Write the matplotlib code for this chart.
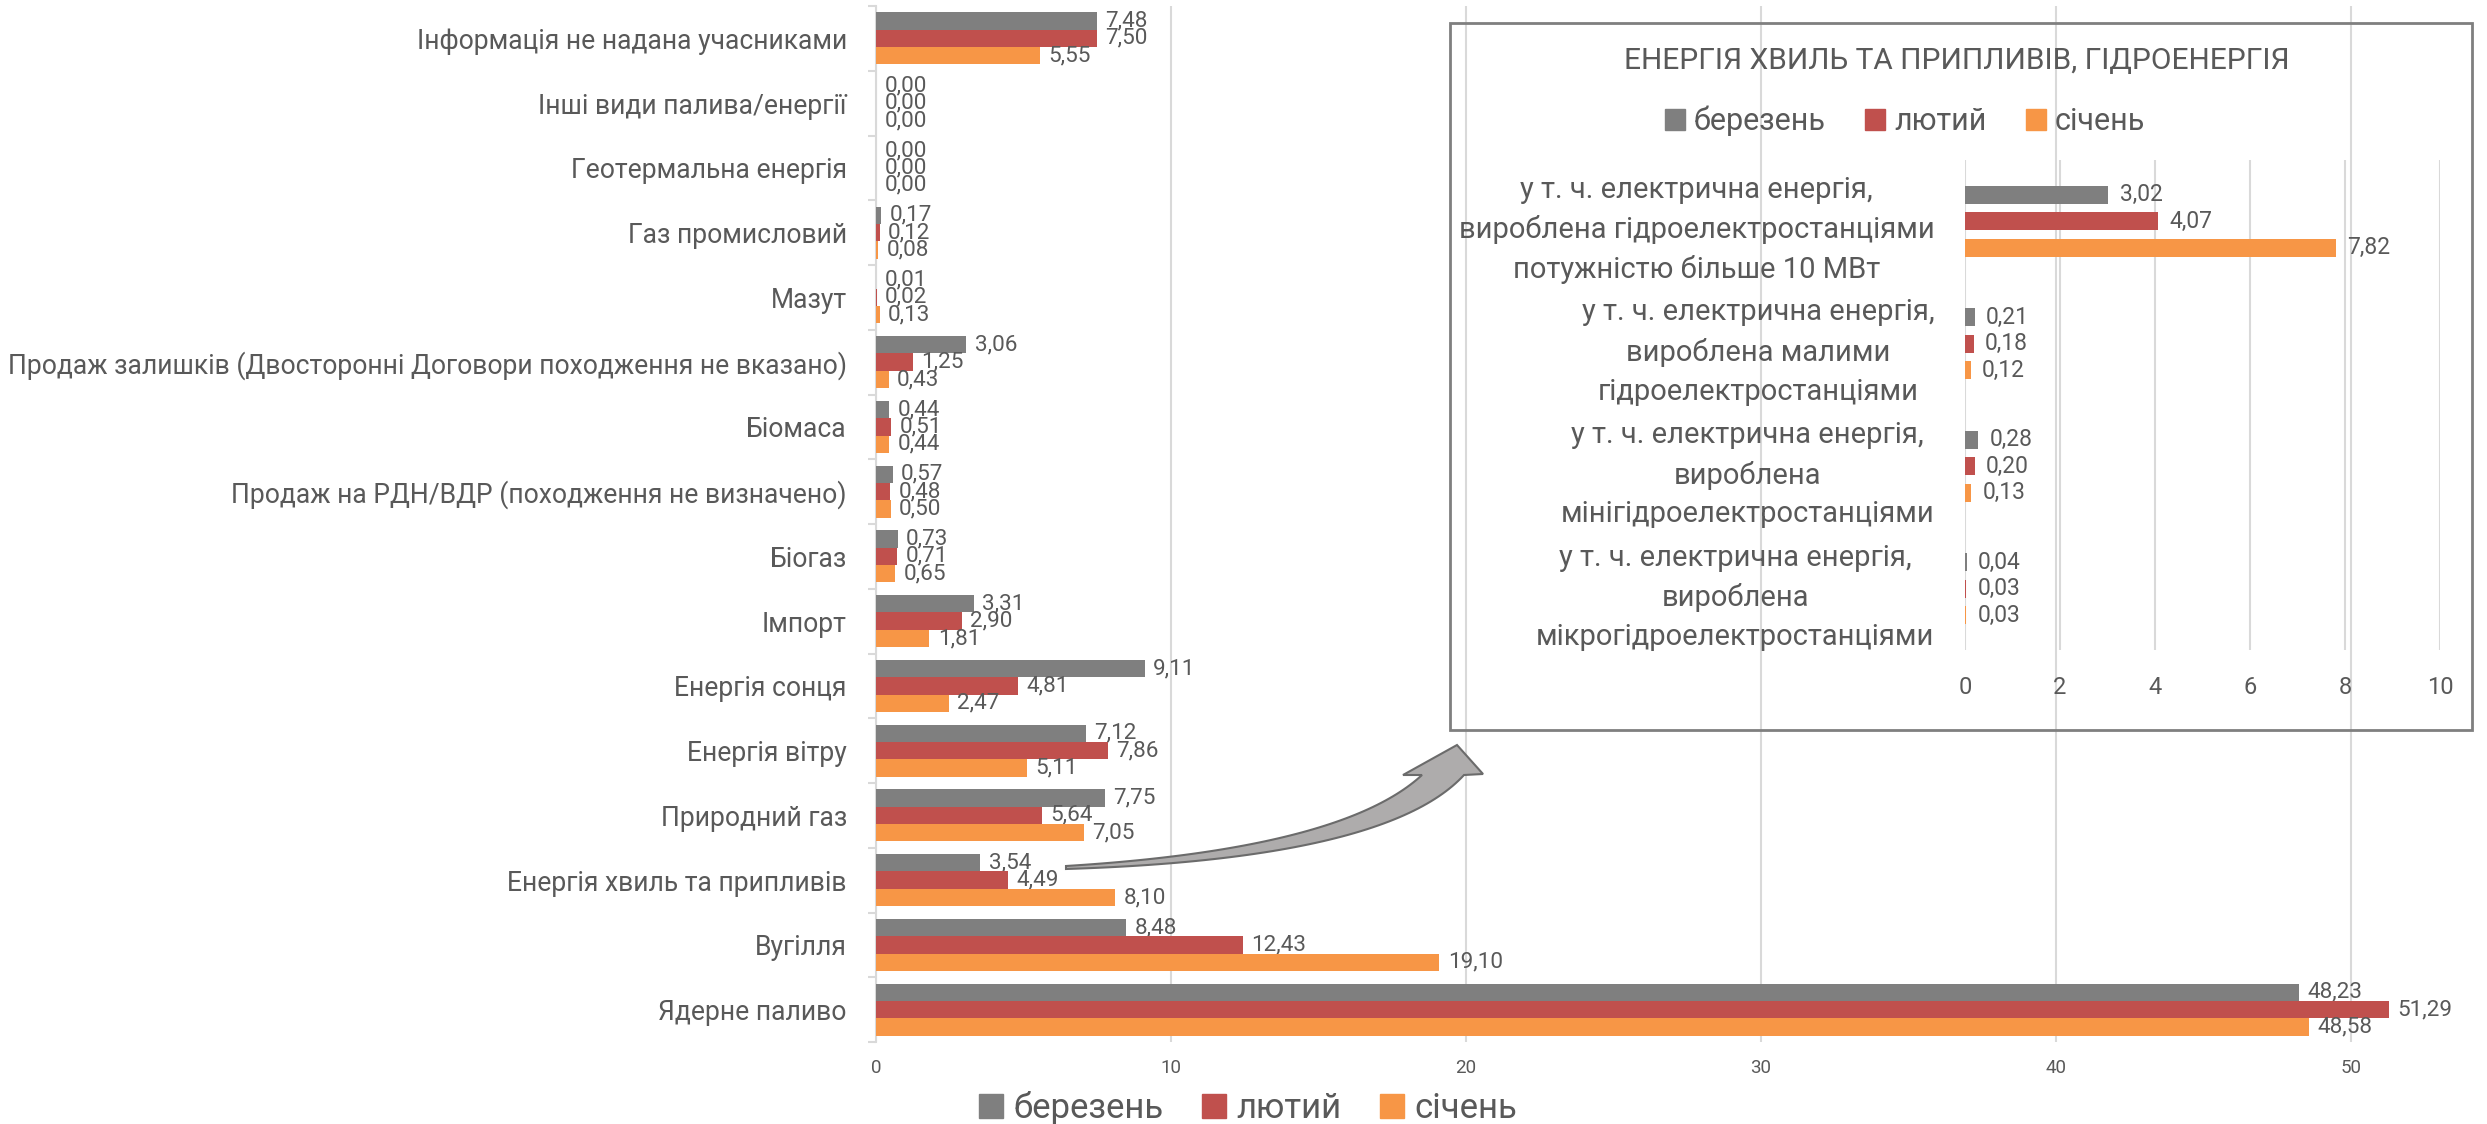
import numpy as np
import matplotlib
matplotlib.use("Agg")
import matplotlib.pyplot as plt
from matplotlib.patches import Patch, Polygon, Rectangle

plt.rcParams['font.family'] = ['Roboto', 'DejaVu Sans']

# main chart data (MWh share, %), top to bottom
categories = [
    'Інформація не надана учасниками',
    'Інші види палива/енергії',
    'Геотермальна енергія',
    'Газ промисловий',
    'Мазут',
    'Продаж залишків (Двосторонні Договори походження не вказано)',
    'Біомаса',
    'Продаж на РДН/ВДР (походження не визначено)',
    'Біогаз',
    'Імпорт',
    'Енергія сонця',
    'Енергія вітру',
    'Природний газ',
    'Енергія хвиль та припливів',
    'Вугілля',
    'Ядерне паливо',
]
series_names = ['березень', 'лютий', 'січень']
berezen = [7.48, 0.00, 0.00, 0.17, 0.01, 3.06, 0.44, 0.57, 0.73, 3.31, 9.11, 7.12, 7.75, 3.54, 8.48, 48.23]
lyutyi = [7.50, 0.00, 0.00, 0.12, 0.02, 1.25, 0.51, 0.48, 0.71, 2.90, 4.81, 7.86, 5.64, 4.49, 12.43, 51.29]
sichen = [5.55, 0.00, 0.00, 0.08, 0.13, 0.43, 0.44, 0.50, 0.65, 1.81, 2.47, 5.11, 7.05, 8.10, 19.10, 48.58]

# inset data
inset_title = 'ЕНЕРГІЯ ХВИЛЬ ТА ПРИПЛИВІВ, ГІДРОЕНЕРГІЯ'
inset_categories = [
    'у т. ч. електрична енергія,\nвироблена гідроелектростанціями\nпотужністю більше 10 МВт',
    'у т. ч. електрична енергія,\nвироблена малими\nгідроелектростанціями',
    'у т. ч. електрична енергія,\nвироблена\nмінігідроелектростанціями',
    'у т. ч. електрична енергія,\nвироблена\nмікрогідроелектростанціями',
]
inset_berezen = [3.02, 0.21, 0.28, 0.04]
inset_lyutyi = [4.07, 0.18, 0.20, 0.03]
inset_sichen = [7.82, 0.12, 0.13, 0.03]

colors = ['#7F7F7F', '#C0504D', '#F79646']
text_col = '#595959'
grid_col = '#D9D9D9'

W, H = 2487, 1124
fig = plt.figure(figsize=(W / 100, H / 100), dpi=100)


def fx(px):
    return px / W


def fy(py):
    return 1 - py / H


def fmt(v):
    return f'{v:.2f}'.replace('.', ',')


# ---- main chart ----
ax = fig.add_axes([fx(876), fy(1042), (2410 - 876) / W, (1042 - 6) / H])
y = np.arange(len(categories))
h = 0.268
for j, vals in enumerate([berezen, lyutyi, sichen]):
    pos = y + (j - 1) * h
    ax.barh(pos, vals, height=h, color=colors[j], zorder=3)
    for p, v in zip(pos, vals):
        ax.annotate(fmt(v), (v, p), xytext=(6, 0), textcoords='offset points',
                    va='center', ha='left', fontsize=16.2, color=text_col)

ax.set_xlim(0, 52)
ax.set_ylim(len(categories) - 0.5, -0.5)
ax.set_xticks(range(0, 60, 10))
ax.set_yticks(y)
ax.set_yticklabels(categories)
ax.set_yticks(np.arange(-0.5, len(categories), 1), minor=True)
ax.tick_params(axis='y', which='major', length=0, pad=21, labelsize=19.1, labelcolor=text_col)
ax.tick_params(axis='y', which='minor', length=6, width=1.5, color=grid_col)
ax.tick_params(axis='x', length=0, pad=12, labelsize=13.5, labelcolor=text_col)
ax.grid(axis='x', color=grid_col, linewidth=1.5, zorder=0)
for s in ['top', 'right', 'bottom']:
    ax.spines[s].set_visible(False)
ax.spines['left'].set_color(grid_col)
ax.spines['left'].set_linewidth(1.5)
ax.set_facecolor('none')

handles = [Patch(color=c) for c in colors]
fig.legend(handles, series_names, loc='center', bbox_to_anchor=(fx(1248), fy(1108)),
           ncol=3, frameon=False, fontsize=25, labelcolor=text_col,
           handlelength=0.7, handleheight=0.7, handletextpad=0.3, columnspacing=1.1)

# ---- inset ----
fig.add_artist(Rectangle((fx(1450), fy(730)), (2472 - 1450) / W, (730 - 23) / H,
                         transform=fig.transFigure, facecolor='none',
                         edgecolor='#7F7F7F', linewidth=2, zorder=4))

ax2 = fig.add_axes([fx(1965), fy(650), (2440 - 1965) / W, (650 - 160) / H])
y2 = np.arange(len(inset_categories))
step = 0.216
h2 = 0.147
for j, vals in enumerate([inset_berezen, inset_lyutyi, inset_sichen]):
    pos = y2 + (j - 1) * step
    ax2.barh(pos, vals, height=h2, color=colors[j], zorder=3)
    for p, v in zip(pos, vals):
        ax2.annotate(fmt(v), (v, p), xytext=(8, 0), textcoords='offset points',
                     va='center', ha='left', fontsize=16.5, color=text_col)
ax2.set_xlim(0, 10)
ax2.set_ylim(len(inset_categories) - 0.5, -0.5)
ax2.set_xticks(range(0, 12, 2))
ax2.set_yticks(y2)
ax2.set_yticklabels(inset_categories)
for lab in ax2.get_yticklabels():
    lab.set_multialignment('center')
    lab.set_linespacing(1.5)
ax2.tick_params(axis='y', length=0, pad=22, labelsize=21, labelcolor=text_col)
ax2.tick_params(axis='x', length=0, pad=19, labelsize=17, labelcolor=text_col)
ax2.grid(axis='x', color=grid_col, linewidth=1.5, zorder=0)
for s in ax2.spines.values():
    s.set_visible(False)
ax2.set_facecolor('none')

fig.text(fx(1957), fy(61), inset_title, ha='center', va='center', fontsize=21.5, color=text_col)
fig.legend(handles, series_names, loc='center', bbox_to_anchor=(fx(1905), fy(121)),
           ncol=3, frameon=False, fontsize=22, labelcolor=text_col,
           handlelength=0.65, handleheight=0.65, handletextpad=0.28, columnspacing=1.3)

# ---- curved arrow from the main bar group to the inset ----
t = np.linspace(0, 1, 60)[:, None]


def bez(p0, p1, p2):
    p0, p1, p2 = map(np.array, (p0, p1, p2))
    return (1 - t) ** 2 * p0 + 2 * (1 - t) * t * p1 + t ** 2 * p2


upper = bez((1066, 866), (1342, 849), (1422, 775))
lower = bez((1066, 869), (1387, 859), (1464, 775))
head = np.array([(1403, 775), (1457, 745), (1483, 774)])
outline = np.vstack([upper, head, lower[::-1]])
outline_fig = np.column_stack([outline[:, 0] / W, 1 - outline[:, 1] / H])
fig.add_artist(Polygon(outline_fig, closed=True, transform=fig.transFigure,
                       facecolor='#AEACAC', edgecolor='#6B6B6B', linewidth=1.5, zorder=5))

fig.savefig('out.png', dpi=100)
